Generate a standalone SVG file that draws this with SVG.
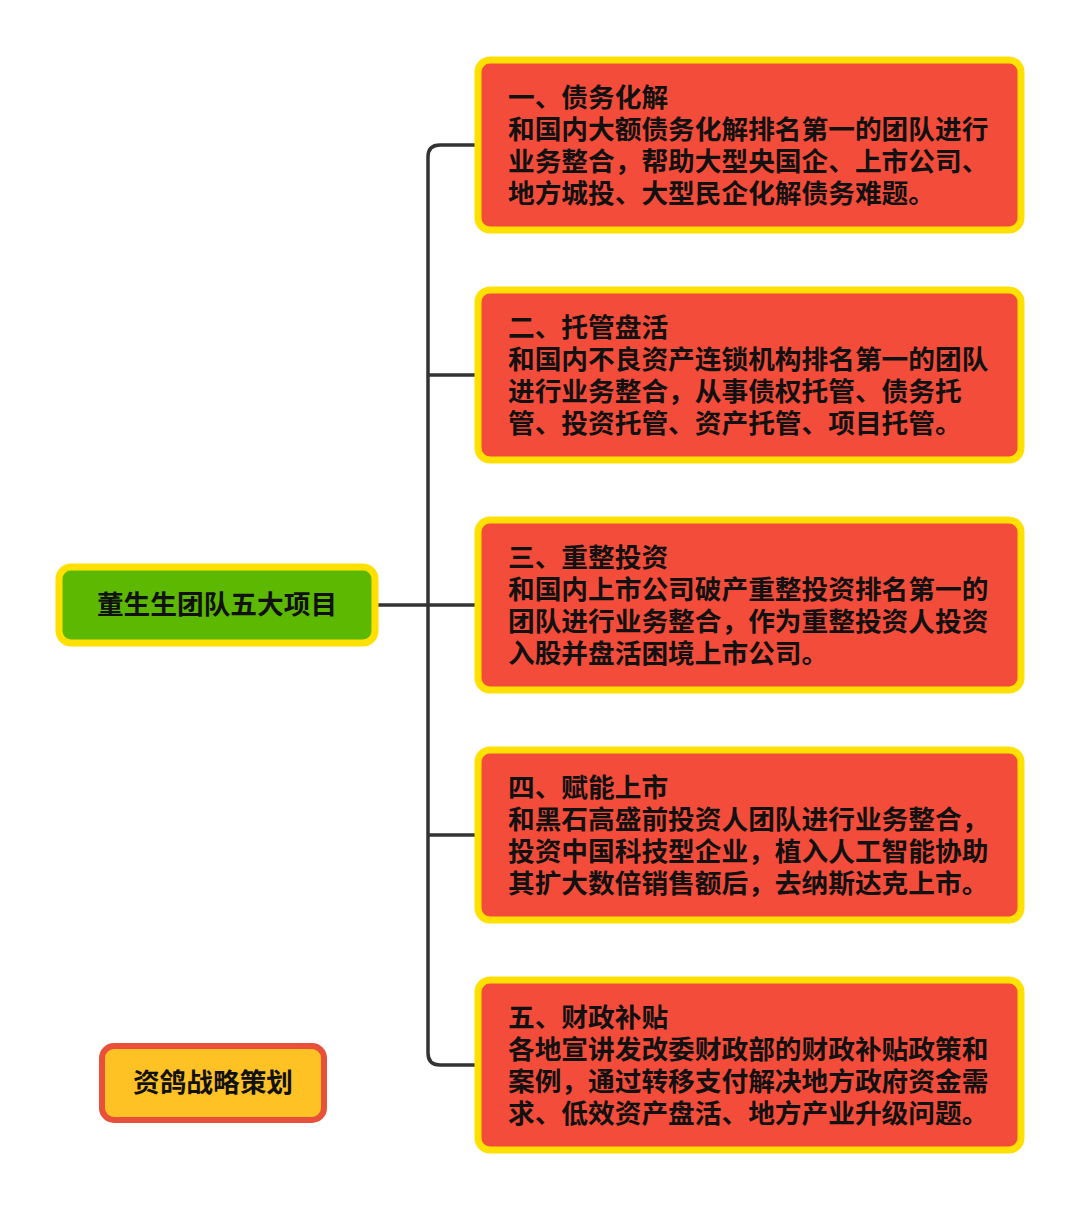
<svg xmlns="http://www.w3.org/2000/svg" width="1080" height="1221" viewBox="0 0 1080 1221">
<style>
.box{fill:#F44C3A;stroke:#FFE000;stroke-width:7}
.t{font-family:"Noto Sans CJK SC","Noto Sans",sans-serif;font-weight:bold;font-size:26.7px;fill:#111}
.c{fill:none;stroke:#333;stroke-width:3.5}
</style>
<rect width="1080" height="1221" fill="#fff"/>
<g id="connectors">
<path class="c" d="M376 605H428"/>
<path class="c" d="M476 145H440Q428 145 428 157V1053Q428 1065 440 1065H476"/>
<path class="c" d="M428 375H476M428 605H476M428 835H476"/>
</g>
<g id="root">
<rect x="59" y="567" width="316" height="76" rx="12" fill="#5CB800" stroke="#FFE000" stroke-width="7"/>
<text class="t" x="217" y="614" text-anchor="middle" font-size="25.5">董生生团队五大项目</text>
</g>
<g id="n1">
<rect class="box" x="478" y="60" width="543" height="170" rx="12"/>
<text class="t"><tspan x="508" y="107">一、债务化解</tspan><tspan x="508" y="139">和国内大额债务化解排名第一的团队进行</tspan><tspan x="508" y="171">业务整合，帮助大型央国企、上市公司、</tspan><tspan x="508" y="203">地方城投、大型民企化解债务难题。</tspan></text>
</g>
<g id="n2">
<rect class="box" x="478" y="290" width="543" height="170" rx="12"/>
<text class="t"><tspan x="508" y="337">二、托管盘活</tspan><tspan x="508" y="369">和国内不良资产连锁机构排名第一的团队</tspan><tspan x="508" y="401">进行业务整合，从事债权托管、债务托</tspan><tspan x="508" y="433">管、投资托管、资产托管、项目托管。</tspan></text>
</g>
<g id="n3">
<rect class="box" x="478" y="520" width="543" height="170" rx="12"/>
<text class="t"><tspan x="508" y="567">三、重整投资</tspan><tspan x="508" y="599">和国内上市公司破产重整投资排名第一的</tspan><tspan x="508" y="631">团队进行业务整合，作为重整投资人投资</tspan><tspan x="508" y="663">入股并盘活困境上市公司。</tspan></text>
</g>
<g id="n4">
<rect class="box" x="478" y="750" width="543" height="170" rx="12"/>
<text class="t"><tspan x="508" y="797">四、赋能上市</tspan><tspan x="508" y="829">和黑石高盛前投资人团队进行业务整合，</tspan><tspan x="508" y="861">投资中国科技型企业，植入人工智能协助</tspan><tspan x="508" y="893">其扩大数倍销售额后，去纳斯达克上市。</tspan></text>
</g>
<g id="n5">
<rect class="box" x="478" y="980" width="543" height="170" rx="12"/>
<text class="t"><tspan x="508" y="1027">五、财政补贴</tspan><tspan x="508" y="1059">各地宣讲发改委财政部的财政补贴政策和</tspan><tspan x="508" y="1091">案例，通过转移支付解决地方政府资金需</tspan><tspan x="508" y="1123">求、低效资产盘活、地方产业升级问题。</tspan></text>
</g>
<g id="brand">
<rect x="102" y="1046" width="222" height="74" rx="12" fill="#FFC224" stroke="#E8503A" stroke-width="6"/>
<text class="t" x="213" y="1092" text-anchor="middle" font-size="25.5">资鸽战略策划</text>
</g>
</svg>
